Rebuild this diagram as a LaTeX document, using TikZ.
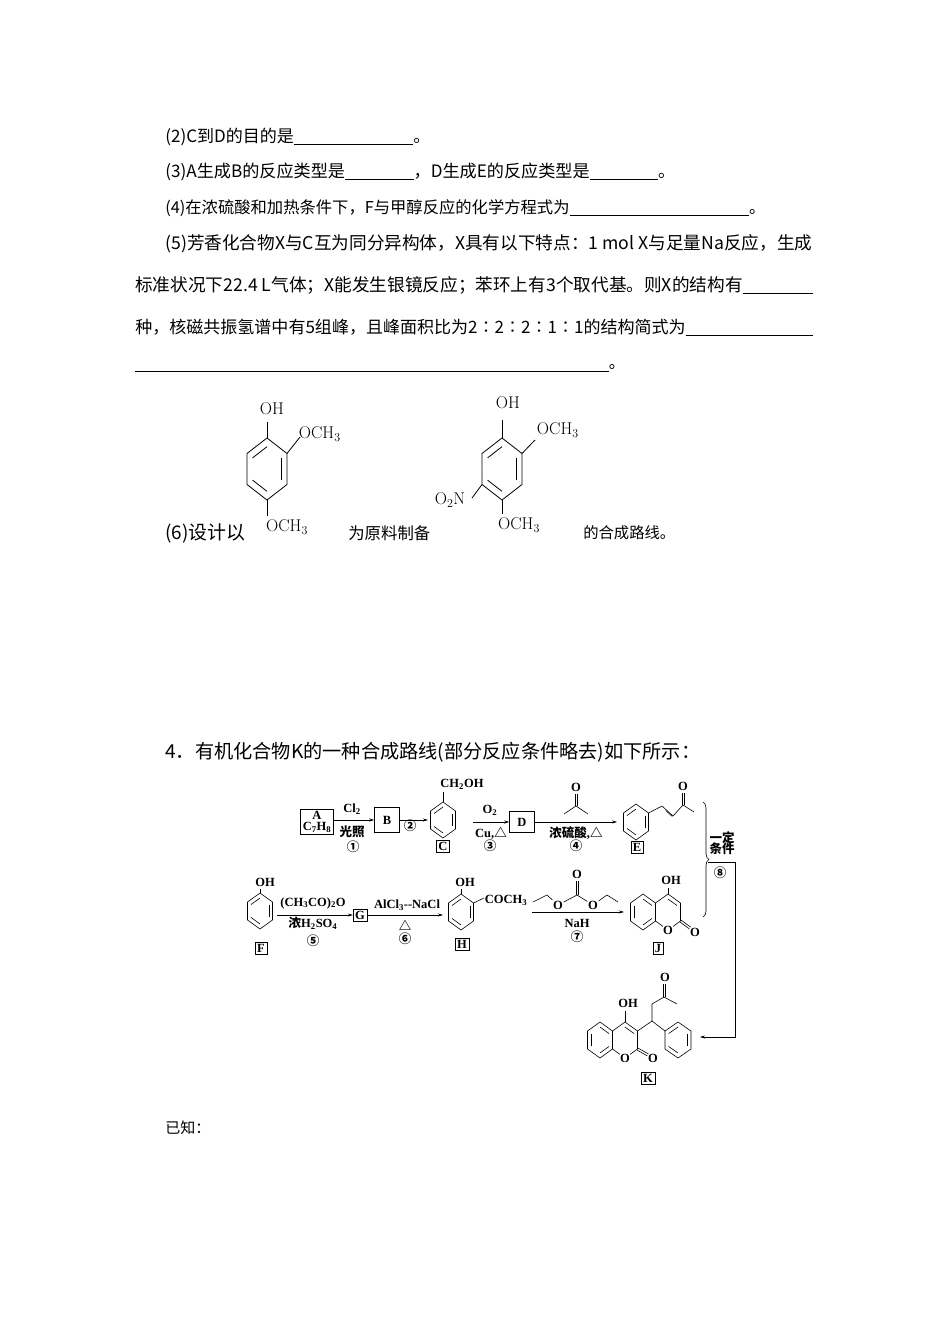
\documentclass[tikz,border=0pt]{standalone}
\usepackage{fontspec}
\usetikzlibrary{calc,arrows.meta,decorations.pathreplacing}
\newfontfamily\cjk{Noto Sans CJK SC}
\newfontfamily\tms{Liberation Serif}
\newcommand\lb{\tms\bfseries\fontsize{12.5}{13}\selectfont}
\newcommand\lbc{\cjk\bfseries\fontsize{12.5}{13}\selectfont}
\newcommand\tri{{\cjk △}}
\newcommand\bt{\cjk\fontsize{16}{16}\selectfont}
\newcommand\bl[1]{\rule[-2pt]{#1em}{0.5pt}}
\newcommand\hexr[4]{%
\coordinate (hc) at (#1,#2);
\coordinate (h0) at (#1,#2-#4);
\coordinate (h1) at (#1+#3,#2-#4/2);
\coordinate (h2) at (#1+#3,#2+#4/2);
\coordinate (h3) at (#1,#2+#4);
\coordinate (h4) at (#1-#3,#2+#4/2);
\coordinate (h5) at (#1-#3,#2-#4/2);
\draw (h0)--(h1)--(h2)--(h3)--(h4)--(h5)--cycle;}
\newcommand\db[2]{\draw ($(hc)!0.72!(h#1)$)--($(hc)!0.72!(h#2)$);}
\newcommand\dbnd[2]{\draw ($(#1)!1.1pt!90:(#2)$)--($(#2)!1.1pt!-90:(#1)$);
 \draw ($(#1)!1.1pt!-90:(#2)$)--($(#2)!1.1pt!90:(#1)$);}
\tikzset{txt/.style={anchor=west,inner sep=0pt},
 bx/.style={draw,inner sep=2pt,font=\lb},
 lab/.style={inner sep=0.5pt,font=\lb},
 arr/.style={-{Stealth[length=5pt,width=3pt]}},
 chm/.style={inner sep=0.5pt,font=\fontsize{17}{17}\selectfont}}
\begin{document}
\begin{tikzpicture}[x=1pt,y=-1pt,line width=0.6pt]
\useasboundingbox[fill=white] (0,0) rectangle (950,1344);
% body text
\node[txt] (l1) at (165,137) {\resizebox{265pt}{!}{\bt (2)C到D的目的是\bl{7}。}};
\node[txt] (l2) at (165,172) {\resizebox{510pt}{!}{\bt (3)A生成B的反应类型是\bl{4}，D生成E的反应类型是\bl{4}。}};
\node[txt] (l3) at (165,208) {\resizebox{600pt}{!}{\bt (4)在浓硫酸和加热条件下，F与甲醇反应的化学方程式为\bl{11}。}};
\node[txt] (l4) at (165,244) {\resizebox{647pt}{!}{\bt (5)芳香化合物X与C互为同分异构体，X具有以下特点：1 mol X与足量Na反应，生成}};
\node[txt] (l5) at (135,285) {\resizebox{678pt}{!}{\bt 标准状况下22.4 L气体；X能发生银镜反应；苯环上有3个取代基。则X的结构有\bl{4}}};
\node[txt] (l6) at (135,327) {\resizebox{678pt}{!}{\bt 种，核磁共振氢谱中有5组峰，且峰面积比为2∶2∶2∶1∶1的结构简式为\bl{7.5}}};
\node[txt] (l7) at (135,368) {\resizebox{490pt}{!}{\bt \bl{29}。}};
\node[txt] (l8a) at (165,533) {\resizebox{80pt}{!}{\bt (6)设计以}};
\node[txt] (l8b) at (348,533) {\resizebox{82pt}{!}{\bt 为原料制备}};
\node[txt] (l8c) at (583,533) {\resizebox{92pt}{!}{\bt 的合成路线。}};
\node[txt] (l9) at (165,752) {\resizebox{535pt}{!}{\bt 4．有机化合物K的一种合成路线(部分反应条件略去)如下所示：}};
\node[txt] (l10) at (165,1128) {\resizebox{45pt}{!}{\bt 已知：}};
% structure 1
\begin{scope}[line width=0.8pt]
\hexr{267}{469}{20}{31}\db{5}{0}\db{1}{2}\db{3}{4}
\draw (h0)--(267,422); \node[chm] (s1oh) at (272,409) {OH};
\draw (h1)--(300,437); \node[chm,anchor=west] (s1o) at (298,434) {OCH$_3$};
\draw (h3)--(267,516); \node[chm] (s1b) at (287,527) {OCH$_3$};
% structure 2
\hexr{502}{469}{20}{31}\db{5}{0}\db{1}{2}\db{3}{4}
\draw (h0)--(502,420); \node[chm] (s2oh) at (508,403) {OH};
\draw (h1)--(535,440); \node[chm,anchor=west] (s2o) at (536,430) {OCH$_3$};
\draw (h4)--(472,498); \node[chm] (s2n) at (450,500) {O$_2$N};
\draw (h3)--(502,514); \node[chm] (s2b) at (519,525) {OCH$_3$};
\end{scope}
% ===== scheme row 1
\node[bx,align=center] (A) at (317,822) {A\\[-2pt]C\textsubscript{7}H\textsubscript{8}};
\node[bx,minimum width=25pt,minimum height=25pt] (B) at (387,820) {B};
\draw[arr] (A.east|-B) -- (B.west);
\node[lab] (c1) at (352,809) {Cl\textsubscript{2}};
\node[lab,font=\lbc] (c1b) at (352,832) {光照};
\node[lab,font=\lbc] (n1) at (353,847) {①};
\hexr{443}{820}{12.5}{18}\db{5}{0}\db{1}{2}\db{3}{4}
\coordinate (Cw) at (428,820);
\draw[arr] (B.east) -- (Cw);
\node[lab,font=\lbc] (n2) at (410,826) {②};
\draw (h0)--(443,792); \node[lab] (ch2oh) at (462,784) {CH\textsubscript{2}OH};
\node[bx] (C) at (443,846) {C};
\node[bx,minimum width=25pt,minimum height=21pt] (D) at (522,822) {D};
\coordinate (c3s) at (473,822);
\draw[arr] (c3s) -- (D.west);
\node[lab] (o2) at (490,810) {O\textsubscript{2}};
\node[lab] (cu) at (491,833) {Cu,\tri};
\node[lab,font=\lbc] (n3) at (490,846) {③};
\coordinate (Ew) at (617,822);
\draw[arr] (D.east) -- (Ew);
\coordinate (ac) at (576,806); \coordinate (ao1) at (576,794);
\draw (564,814)--(ac)--(588,814); \dbnd{ac}{ao1}
\node[lab] (ao) at (576,787) {O};
\node[lab,font=\lbc] (c4) at (576,833) {浓硫酸\tms\bfseries,\tri};
\node[lab,font=\lbc] (n4) at (576,846) {④};
\hexr{636}{822}{12.5}{18}\db{5}{0}\db{1}{2}\db{3}{4}
\draw (h1)--(662,806); \draw (662,806)--(673,816);
\draw ($(662,806)!0.2!(673,816)+(1.5,2.5)$)--($(662,806)!0.8!(673,816)+(1.5,2.5)$);
\coordinate (ec) at (683,805); \coordinate (eo1) at (683,793);
\draw (673,816)--(ec)--(694,812); \dbnd{ec}{eo1}
\node[lab] (eo) at (683,786) {O};
\node[bx] (E) at (637,847) {E};
% brace and condition 8
\draw[decorate,decoration={brace,amplitude=6pt}] (703,802)--(703,917);
\node[lab,font=\lbc,align=center] (c8) at (722,843) {一定\\[-2pt]条件};
\node[lab,font=\lbc] (n8) at (720,873) {⑧};
\coordinate (v1) at (708,862);
\coordinate (v2) at (735,862);
\coordinate (v3) at (735,1037);
\coordinate (Kt) at (700,1037);
\draw[arr] (v1)--(v2)--(v3)--(Kt);
% ===== row 2
\hexr{260}{911}{12.5}{18}\db{5}{0}\db{1}{2}\db{3}{4}
\draw (h0)--(260,889); \node[lab] (foh) at (265,882) {OH};
\node[bx] (F) at (261,948) {F};
\node[bx] (G) at (360,915) {G};
\coordinate (Fe) at (277,915);
\draw[arr] (Fe)--(G.west);
\node[lab] (c5) at (313,903) {(CH\textsubscript{3}CO)\textsubscript{2}O};
\node[lab,font=\lbc] (c5b) at (313,923) {浓\tms\bfseries H\textsubscript{2}SO\textsubscript{4}};
\node[lab,font=\lbc] (n5) at (313,941) {⑤};
\coordinate (Hw) at (443,915);
\draw[arr] (G.east)--(Hw);
\node[lab] (c6) at (407,905) {AlCl\textsubscript{3}--NaCl};
\node[lab] (c6b) at (405,925) {\tri};
\node[lab,font=\lbc] (n6) at (405,939) {⑥};
\hexr{461}{912}{12.5}{18}\db{5}{0}\db{1}{2}\db{3}{4}
\draw (h0)--(461,889); \node[lab] (hoh) at (465,882) {OH};
\draw (h1)--(484,898); \node[lab,anchor=west] (hcoch) at (484,900) {COCH\textsubscript{3}};
\node[bx] (H) at (462,944) {H};
\coordinate (a7s) at (532,912); \coordinate (a7e) at (624,912);
\draw[arr] (a7s)--(a7e);
\node[lab] (oa) at (558,905) {O}; \node[lab] (ob) at (593,905) {O};
\coordinate (cc) at (577,895); \coordinate (cco) at (577,881);
\draw (533,902)--(547,895)--(oa)--(cc)--(ob)--(607,895)--(618,902);
\dbnd{cc}{cco} \node[lab] (oc) at (577,874) {O};
\node[lab] (nah) at (577,923) {NaH};
\node[lab,font=\lbc] (n7) at (577,937) {⑦};
% J
\hexr{643}{912}{12.5}{18}\db{0}{1}\db{2}{3}\db{4}{5}
\hexr{668}{912}{12.5}{18}\db{0}{1}
\draw (h0)--(668,888); \node[lab] (joh) at (671,880) {OH};
\coordinate (jo2c) at (690,928);
\dbnd{h2}{jo2c} \node[lab] (jo2) at (695,932) {O};
\node[lab,fill=white] (jo1) at (668,930) {O};
\node[bx] (J) at (658,948) {J};
% K
\hexr{600}{1040}{12.5}{18}\db{0}{1}\db{2}{3}\db{4}{5}
\hexr{625}{1040}{12.5}{18}\db{0}{1}
\draw (h0)--(625,1011); \node[lab] (koh) at (628,1003) {OH};
\coordinate (ko2c) at (648,1055);
\dbnd{h2}{ko2c} \node[lab] (ko2) at (653,1058) {O};
\node[lab,fill=white] (ko1) at (625,1058) {O};
\coordinate (kc) at (664,997); \coordinate (kco) at (664,984);
\draw (h1)--(652,1021)--(652,1004)--(kc)--(677,1004);
\dbnd{kc}{kco} \node[lab] (ko3) at (665,977) {O};
\hexr{678}{1040}{13}{18}\db{5}{0}\db{1}{2}\db{3}{4}
\draw (652,1021)--(h5);
\node[bx] (K) at (648,1078) {K};
\end{tikzpicture}
\end{document}
